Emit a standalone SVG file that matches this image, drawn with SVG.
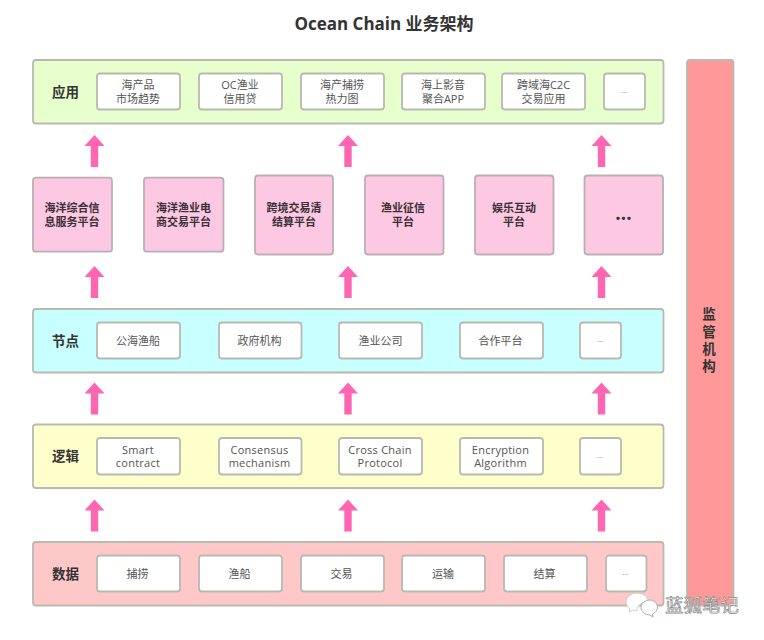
<svg xmlns="http://www.w3.org/2000/svg" width="764" height="640" viewBox="0 0 764 640">
<style>
text{font-family:"Open Sans","Noto Sans CJK SC",sans-serif;text-anchor:middle}
.band,.item,.plat,.bar{stroke:#b9b9b0;stroke-width:1.800}
.item{fill:#fff}
.plat{fill:#fcc8e2;stroke:#bcaeb6}
.t{font-size:11px;fill:#555}
.l{font-size:11px;fill:#555;letter-spacing:.25px}
.b{font-size:11px;font-weight:700;fill:#3a3035}
.h{font-size:13.500px;font-weight:700;fill:#333}
.d{font-size:8px;fill:#888}
.arrow{fill:#ff66b2}
</style>
<defs><path id="up" d="M0 0L10 11H3.700V32H-3.700V11H-10Z"/></defs>
<rect width="764" height="640" fill="#fff"/>
<text id="title" x="384" y="30" font-size="17" font-weight="700" fill="#333">Ocean Chain 业务架构</text>

<g id="connectors" class="arrow">
<use href="#up" x="94.500" y="135"/><use href="#up" x="348" y="135"/><use href="#up" x="601.500" y="135"/>
<use href="#up" x="94.500" y="266"/><use href="#up" x="348" y="266"/><use href="#up" x="601.500" y="266"/>
<use href="#up" x="94.500" y="382.500"/><use href="#up" x="348" y="382.500"/><use href="#up" x="601.500" y="382.500"/>
<use href="#up" x="94.500" y="499.500"/><use href="#up" x="348" y="499.500"/><use href="#up" x="601.500" y="499.500"/>
</g>

<g id="band-app"><rect class="band" x="33" y="60" width="630.500" height="63.500" rx="3" fill="#e6ffcc"/><text class="h" x="65.500" y="97">应用</text></g>
<g id="app-1"><rect class="item" x="97" y="73.500" width="83" height="36" rx="3"/><text class="t" x="138" y="89">海产品</text><text class="t" x="138" y="102.500">市场趋势</text></g>
<g id="app-2"><rect class="item" x="199" y="73.500" width="83" height="36" rx="3"/><text class="t" x="240" y="89">OC渔业</text><text class="t" x="240" y="102.500">信用贷</text></g>
<g id="app-3"><rect class="item" x="301" y="73.500" width="83" height="36" rx="3"/><text class="t" x="342" y="89">海产捕捞</text><text class="t" x="342" y="102.500">热力图</text></g>
<g id="app-4"><rect class="item" x="402" y="73.500" width="83" height="36" rx="3"/><text class="t" x="443" y="89">海上影音</text><text class="t" x="443" y="102.500">聚合APP</text></g>
<g id="app-5"><rect class="item" x="502" y="73.500" width="83" height="36" rx="3"/><text class="t" x="543.500" y="89">跨域海C2C</text><text class="t" x="543.500" y="102.500">交易应用</text></g>
<g id="app-6"><rect class="item" x="604" y="73.500" width="41" height="36" rx="3"/><text class="d" x="624" y="93">...</text></g>

<g id="plat-1"><rect class="plat" x="33" y="177.700" width="79" height="74" rx="3"/><text class="b" x="72" y="212">海洋综合信</text><text class="b" x="72" y="225.500">息服务平台</text></g>
<g id="plat-2"><rect class="plat" x="144" y="177.700" width="79.500" height="74" rx="3"/><text class="b" x="183.500" y="212">海洋渔业电</text><text class="b" x="183.500" y="225.500">商交易平台</text></g>
<g id="plat-3"><rect class="plat" x="255" y="175.500" width="78" height="79" rx="3"/><text class="b" x="294" y="212">跨境交易清</text><text class="b" x="294" y="225.500">结算平台</text></g>
<g id="plat-4"><rect class="plat" x="365" y="175.500" width="78.500" height="79" rx="3"/><text class="b" x="403" y="212">渔业征信</text><text class="b" x="403" y="225.500">平台</text></g>
<g id="plat-5"><rect class="plat" x="475" y="175.500" width="78.500" height="79" rx="3"/><text class="b" x="514" y="212">娱乐互动</text><text class="b" x="514" y="225.500">平台</text></g>
<g id="plat-6"><rect class="plat" x="584.500" y="175.500" width="78.500" height="79" rx="3"/><text class="b" x="623.500" y="220" style="font-size:19px">...</text></g>

<g id="band-node"><rect class="band" x="33" y="309" width="630.500" height="63.500" rx="3" fill="#c8ffff"/><text class="h" x="65.500" y="346">节点</text></g>
<g id="node-1"><rect class="item" x="97" y="322.500" width="83" height="36" rx="3"/><text class="t" x="138" y="345">公海渔船</text></g>
<g id="node-2"><rect class="item" x="219" y="322.500" width="82.500" height="36" rx="3"/><text class="t" x="259.500" y="345">政府机构</text></g>
<g id="node-3"><rect class="item" x="339" y="322.500" width="83" height="36" rx="3"/><text class="t" x="380.500" y="345">渔业公司</text></g>
<g id="node-4"><rect class="item" x="460" y="322.500" width="83" height="36" rx="3"/><text class="t" x="500.500" y="345">合作平台</text></g>
<g id="node-5"><rect class="item" x="580" y="322.500" width="41" height="36" rx="3"/><text class="d" x="600" y="342">...</text></g>

<g id="band-logic"><rect class="band" x="33" y="424.500" width="630.500" height="63.500" rx="3" fill="#ffffcc"/><text class="h" x="65.500" y="461">逻辑</text></g>
<g id="logic-1"><rect class="item" x="97" y="438" width="83" height="36.500" rx="3"/><text class="l" x="138" y="453.500">Smart</text><text class="l" x="138" y="467">contract</text></g>
<g id="logic-2"><rect class="item" x="219" y="438" width="82.500" height="36.500" rx="3"/><text class="l" x="259.500" y="453.500">Consensus</text><text class="l" x="259.500" y="467">mechanism</text></g>
<g id="logic-3"><rect class="item" x="339" y="438" width="83" height="36.500" rx="3"/><text class="l" x="380" y="453.500">Cross Chain</text><text class="l" x="380" y="467">Protocol</text></g>
<g id="logic-4"><rect class="item" x="460" y="438" width="83" height="36.500" rx="3"/><text class="l" x="500.500" y="453.500">Encryption</text><text class="l" x="500.500" y="467">Algorithm</text></g>
<g id="logic-5"><rect class="item" x="580" y="438" width="41" height="36.500" rx="3"/><text class="d" x="600" y="458">...</text></g>

<g id="band-data"><rect class="band" x="33" y="542" width="630.500" height="63.500" rx="3" fill="#ffc8c8"/><text class="h" x="65.500" y="579">数据</text></g>
<g id="data-1"><rect class="item" x="97" y="555.500" width="83" height="36" rx="3"/><text class="t" x="137.500" y="578">捕捞</text></g>
<g id="data-2"><rect class="item" x="199" y="555.500" width="83" height="36" rx="3"/><text class="t" x="239.500" y="578">渔船</text></g>
<g id="data-3"><rect class="item" x="301" y="555.500" width="83" height="36" rx="3"/><text class="t" x="341.500" y="578">交易</text></g>
<g id="data-4"><rect class="item" x="402" y="555.500" width="83" height="36" rx="3"/><text class="t" x="443" y="578">运输</text></g>
<g id="data-5"><rect class="item" x="504" y="555.500" width="83" height="36" rx="3"/><text class="t" x="544.500" y="578">结算</text></g>
<g id="data-6"><rect class="item" x="606" y="555.500" width="40.500" height="36" rx="3"/><text class="d" x="625.500" y="575">...</text></g>

<g id="regulator"><rect class="bar" x="687" y="60" width="46.500" height="545.500" rx="3" fill="#ff9999"/>
<text class="h" x="709" y="319">监</text><text class="h" x="709" y="337">管</text><text class="h" x="709" y="354">机</text><text class="h" x="709" y="371">构</text></g>

<g id="watermark">
<path d="M637 593c-6 0-11 4-11 9 0 3 2 5 4 7l-1 3 4-2c1 .4 2 .5 4 .5 0-5 5-9 11-9 0-5-5-8.500-11-8.500Z" fill="#fff" stroke="#ccc"/>
<path d="M650 600c-5 0-9 3.500-9 7.500s4 7.500 9 7.500l3 2-.5-3c3-1.500 5-4 5-6.500 0-4-3.500-7.500-7.500-7.500Z" fill="#fff" stroke="#aaa"/>
<text x="702" y="612" font-size="18.500" fill="#fff" stroke="#888" stroke-width=".7">蓝狐笔记</text>
</g>
</svg>
